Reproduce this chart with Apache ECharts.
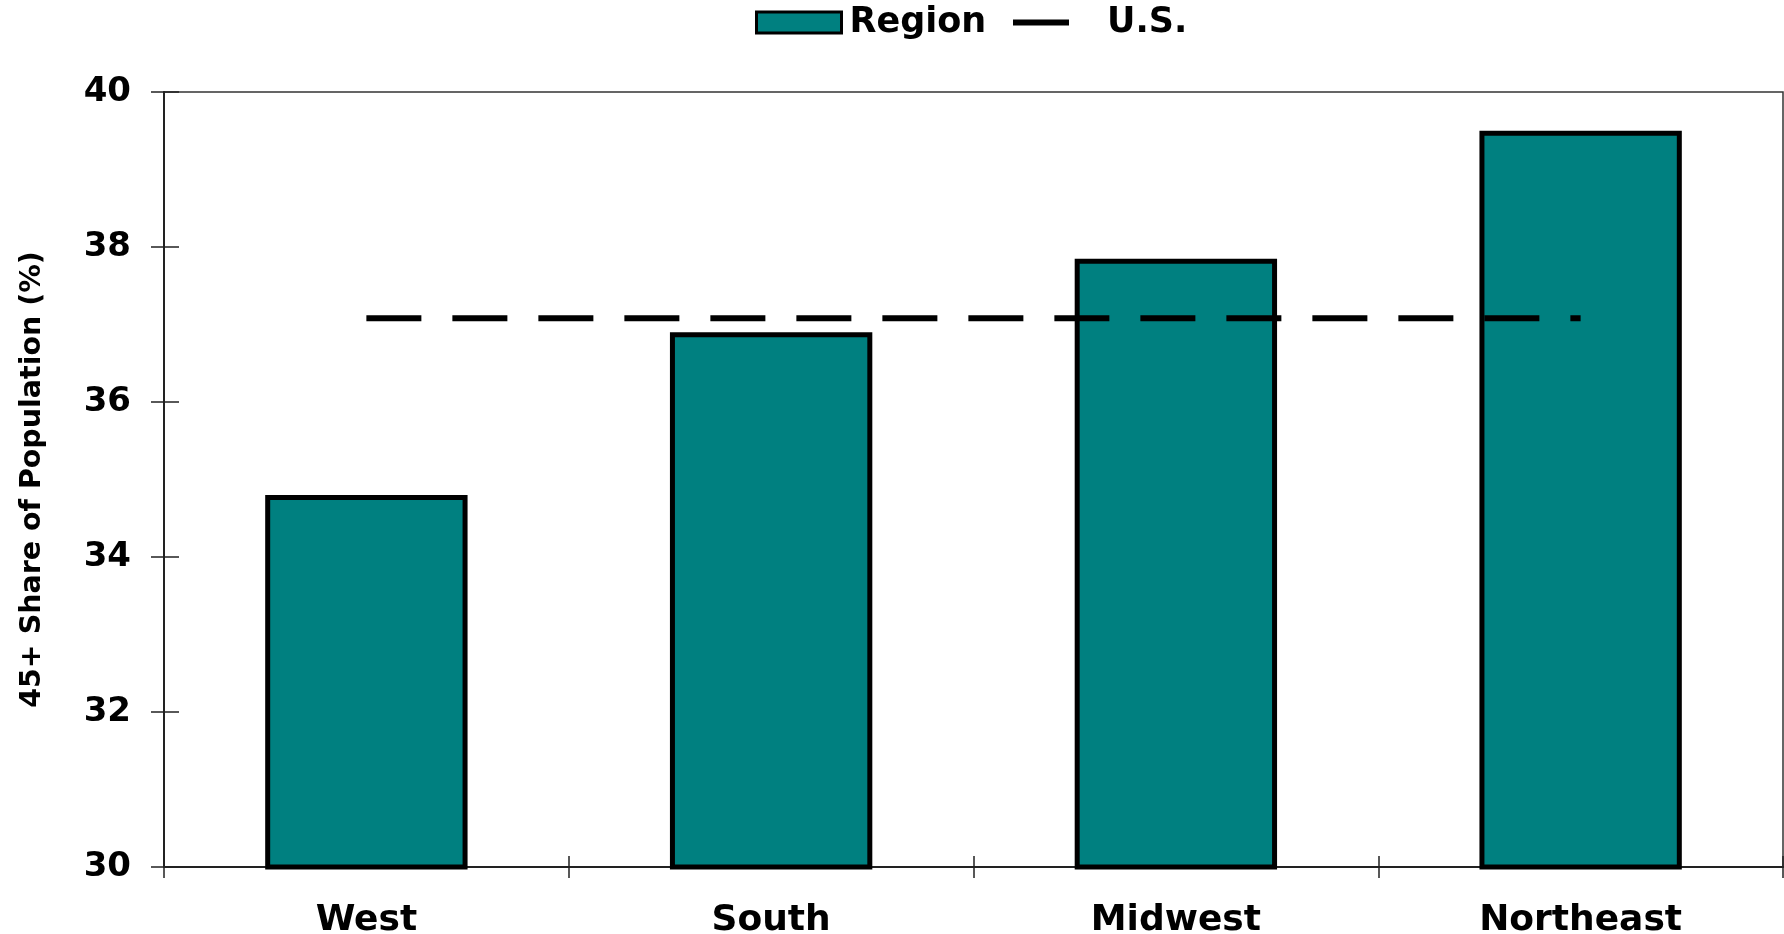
<!DOCTYPE html>
<html>
<head>
<meta charset="utf-8">
<script src="https://cdn.jsdelivr.net/npm/echarts@6/dist/echarts.min.js"></script>
<style>
    html, body { margin: 0; padding: 0; background: #fff; }
    #chart { width: 1784px; height: 934px; }
</style>
</head>
<body>
<div id="chart"></div>
<script>
const regions = ["West", "South", "Midwest", "Northeast"];
const regionShare = [34.8, 36.9, 37.85, 39.5];
const usShare = [37.08, 37.08, 37.08, 37.08];
const yMin = 30;
const yMax = 40;
const yStep = 2;

// wide bold face, the reference text looks stretched sideways
const font = "'DejaVu Sans', 'Liberation Sans', sans-serif";
const axisColor = "#222";

const chart = echarts.init(document.getElementById("chart"));

const option = {
    backgroundColor: "#fff",
    animation: false,
    textStyle: { fontFamily: font },
    grid: {
        left: 164,
        right: 1,
        top: 92,
        bottom: 67,
        outerBoundsMode: "none",
        show: true,
        borderColor: "#333",
        borderWidth: 1.5,
        backgroundColor: "transparent",
    },
    legend: [
        {
            data: ["Region"],
            left: 755,
            top: 5,
            padding: 0,
            itemWidth: 85,
            itemHeight: 21,
            icon: "rect",
            itemStyle: { borderColor: "#000", borderWidth: 3 },
            textStyle: { fontSize: 35, fontWeight: "bold", color: "#000", fontFamily: font, padding: [0, 0, 0, 3] },
        },
        {
            data: ["U.S."],
            left: 1013,
            top: 5,
            padding: 0,
            itemWidth: 56,
            itemHeight: 6,
            icon: "rect",
            itemStyle: { color: "#000", borderWidth: 0 },
            textStyle: { fontSize: 35, fontWeight: "bold", color: "#000", fontFamily: font, padding: [0, 0, 0, 33] },
        },
    ],
    xAxis: [
        {
            type: "category",
            data: regions,
            boundaryGap: true,
            axisLine: { lineStyle: { color: axisColor, width: 2 } },
            axisTick: { show: true, length: 11, alignWithLabel: false, interval: 0, lineStyle: { color: axisColor, width: 1.5 } },
            axisLabel: { fontSize: 36, fontWeight: "bold", color: "#000", margin: 36, fontFamily: font },
            splitLine: { show: false },
        },
        {
            type: "category",
            data: regions,
            position: "bottom",
            boundaryGap: true,
            axisLine: { show: false },
            axisTick: { show: true, inside: true, length: 11, interval: 0, lineStyle: { color: axisColor, width: 1.5 } },
            axisLabel: { show: false },
            splitLine: { show: false },
        },
    ],
    yAxis: [
        {
            type: "value",
            min: yMin,
            max: yMax,
            interval: yStep,
            name: "45+ Share of Population (%)",
            nameLocation: "middle",
            nameGap: 117,
            nameTextStyle: { fontSize: 28.5, fontWeight: "bold", color: "#000", fontFamily: font },
            axisLine: { show: true, lineStyle: { color: axisColor, width: 2 } },
            axisTick: { show: true, length: 13, lineStyle: { color: axisColor, width: 1.5 } },
            axisLabel: { fontSize: 34, fontWeight: "bold", color: "#000", margin: 33, fontFamily: font },
            splitLine: { show: false },
        },
        {
            type: "value",
            min: yMin,
            max: yMax,
            interval: yStep,
            position: "left",
            axisLine: { show: false },
            axisTick: { show: true, inside: true, length: 15, lineStyle: { color: axisColor, width: 1.5 } },
            axisLabel: { show: false },
            splitLine: { show: false },
        },
    ],
    series: [
        {
            name: "Region",
            type: "bar",
            data: regionShare,
            barWidth: "50%",
            itemStyle: { color: "#008080", borderColor: "#000", borderWidth: 5 },
            z: 2,
        },
        {
            name: "U.S.",
            type: "line",
            data: usShare,
            symbol: "none",
            itemStyle: { color: "#000" },
            lineStyle: { color: "#000", width: 6, type: [55, 31], cap: "butt" },
            z: 3,
        },
    ],
};

chart.setOption(option);
</script>
</body>
</html>
